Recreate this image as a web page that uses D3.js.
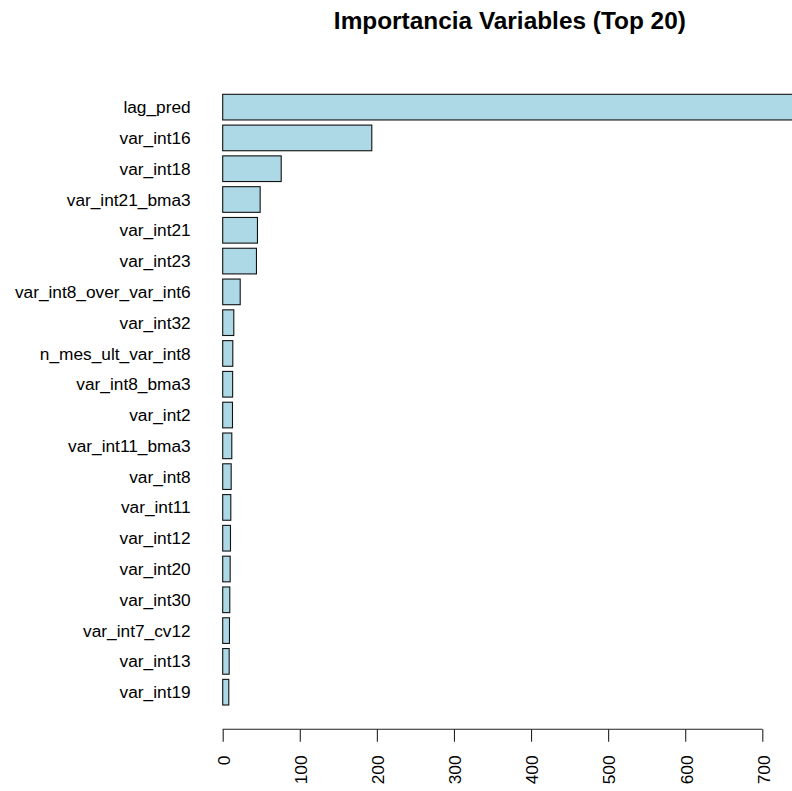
<!DOCTYPE html>
<html>
<head>
<meta charset="utf-8">
<script src="https://cdn.jsdelivr.net/npm/d3@7"></script>
<style>
  html, body { margin: 0; padding: 0; background: #fff; }
  svg { display: block; font-family: "Liberation Sans", Arial, Helvetica, sans-serif; }
</style>
</head>
<body>
<div id="chart"></div>
<script>
// Variable importance, top 20 (largest first)
const variables = [
  "lag_pred", "var_int16", "var_int18", "var_int21_bma3", "var_int21",
  "var_int23", "var_int8_over_var_int6", "var_int32", "n_mes_ult_var_int8", "var_int8_bma3",
  "var_int2", "var_int11_bma3", "var_int8", "var_int11", "var_int12",
  "var_int20", "var_int30", "var_int7_cv12", "var_int13", "var_int19"
];
const importance = [
  745, 193.4, 75.9, 48.6, 45.1,
  43.8, 22.7, 14.4, 13.1, 12.9,
  12.7, 11.8, 11.0, 10.5, 10.1,
  9.7, 9.2, 8.8, 8.4, 7.9
];
const xTicks = [0, 100, 200, 300, 400, 500, 600, 700];
const title = "Importancia Variables (Top 20)";

const width = 792, height = 791;
const rows = variables.map((v, i) => ({ name: v, value: importance[i] }));

const svg = d3.select("#chart").append("svg")
  .attr("width", width)
  .attr("height", height);

const x = d3.scaleLinear().domain([0, 700]).range([222.7, 762.3]);

const y = d3.scaleBand()
  .domain(variables)
  .range([94.3, 705])
  .paddingInner(0.2 / 1.2)
  .paddingOuter(0);

// Bars
svg.append("g")
  .selectAll("rect")
  .data(rows)
  .join("rect")
  .attr("x", x(0))
  .attr("y", d => y(d.name))
  .attr("width", d => x(d.value) - x(0))
  .attr("height", y.bandwidth())
  .attr("fill", "#ADD8E6")
  .attr("stroke", "#111")
  .attr("stroke-width", 1.1);

// Category labels
svg.append("g")
  .selectAll("text")
  .data(rows)
  .join("text")
  .attr("x", 190.7)
  .attr("y", d => y(d.name) + y.bandwidth() / 2)
  .attr("dy", "0.35em")
  .attr("text-anchor", "end")
  .attr("font-size", 17.3)
  .attr("fill", "#000")
  .text(d => d.name);

// Value axis along the bottom, labels rotated
const axisY = 729.3;
const axis = d3.axisBottom(x)
  .tickValues(xTicks)
  .tickFormat(d3.format("d"))
  .tickSize(12.4)
  .tickSizeOuter(0);

const gAxis = svg.append("g")
  .attr("transform", `translate(0,${axisY})`)
  .call(axis);

gAxis.select(".domain")
  .attr("d", `M${x(0)},0H${x(700)}`)
  .attr("stroke", "#222")
  .attr("stroke-width", 1.1);
gAxis.selectAll(".tick line")
  .attr("stroke", "#222")
  .attr("stroke-width", 1.1);
gAxis.selectAll(".tick text")
  .attr("font-family", "Liberation Sans, Arial, Helvetica, sans-serif")
  .attr("font-size", 17.3)
  .attr("fill", "#000")
  .attr("text-anchor", "end")
  .attr("transform", "translate(0.8,26.2) rotate(-90)")
  .attr("x", 0)
  .attr("y", 0)
  .attr("dy", "0.35em");

// Title, centred over the plotting region
const xMax = d3.max(importance);
svg.append("text")
  .attr("x", x(xMax / 2))
  .attr("y", 29.3)
  .attr("text-anchor", "middle")
  .attr("font-size", 24.4)
  .attr("font-weight", "bold")
  .attr("fill", "#000")
  .text(title);
</script>
</body>
</html>
